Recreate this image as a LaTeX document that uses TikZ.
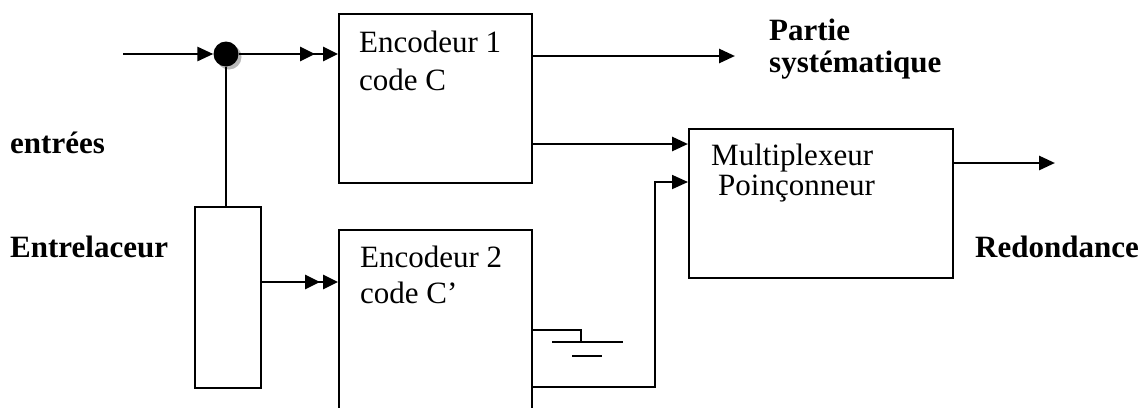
\documentclass[tikz,border=0pt]{standalone}
\usepackage{fontspec}
\setmainfont{Liberation Serif}
\usetikzlibrary{arrows.meta}

\begin{document}
\begin{tikzpicture}[x=1pt,y=-1pt,
  block/.style={draw, line width=1.8pt, inner sep=0pt, anchor=north west},
  txt/.style={inner sep=0pt, anchor=base west, font=\fontsize{31}{37}\selectfont},
  btxt/.style={inner sep=0pt, anchor=base west, font=\fontsize{31}{37}\selectfont\bfseries},
  wire/.style={line width=2.8pt},
  thinwire/.style={line width=1.8pt},
  tip/.style={-{Triangle[length=16pt,width=14pt]}},
  twotipsA/.style={-{Triangle[length=15pt,width=14pt,sep=8pt]Triangle[length=15pt,width=14pt]}},
  twotipsB/.style={-{Triangle[length=15pt,width=14pt,sep=3pt]Triangle[length=15pt,width=14pt]}},
]
\useasboundingbox (0,0) rectangle (1147,407);
\clip (0,0) rectangle (1147,407);

% blocks
\node[block, minimum width=193pt, minimum height=169pt] (enc1) at (338,13) {};
\node[block, minimum width=193pt, minimum height=200pt] (enc2) at (338,229) {};
\node[block, minimum width=66pt, minimum height=181pt] (inter) at (194,206) {};
\node[block, minimum width=264pt, minimum height=149pt] (mux) at (688,128) {};

% branching point with its shadow
\fill[gray!55] (229,57) circle (12.5);
\node[circle, fill=black, minimum size=25pt, inner sep=0pt] (dot) at (226,54) {};

% helper coordinates
\coordinate (in) at (123,54);
\coordinate (sysout) at (735,56);
\coordinate (r1) at (0,144);
\coordinate (r2) at (0,182);
\coordinate (r3) at (0,282);
\coordinate (r4) at (0,163);
\coordinate (redout) at (1055,163);
\coordinate (gnd) at (0,330);
\coordinate (gnda) at (581,342);
\coordinate (g1a) at (552,342);
\coordinate (g1b) at (623,342);
\coordinate (g2a) at (572,356);
\coordinate (g2b) at (602,356);
\coordinate (lp) at (0,387);
\coordinate (lpc) at (655,182);

% connectors
\draw[wire, tip] (in) -- (dot.west);
\draw[wire, twotipsA] (dot.east) -- (enc1.west |- dot);
\draw[thinwire] (dot.south) -- (dot.south |- inter.north);
\draw[wire, tip] (enc1.east |- sysout) -- (sysout);
\draw[wire, tip] (enc1.east |- r1) -- (mux.west |- r1);
\draw[wire, twotipsB] (inter.east |- r3) -- (enc2.west |- r3);
\draw[thinwire] (enc2.east |- gnd) -| (gnda);
\draw[thinwire] (g1a) -- (g1b);
\draw[thinwire] (g2a) -- (g2b);
\draw[thinwire, tip] (enc2.east |- lp) -| (lpc) -- (mux.west |- r2);
\draw[wire, tip] (mux.east |- r4) -- (redout);

% texts
\node[txt] (t1) at (359,52) {Encodeur 1};
\node[txt] (t2) at (359,90) {code C};
\node[txt] (t3) at (360,267) {Encodeur 2};
\node[txt] (t4) at (360,303) {code C’};
\node[txt] (t5) at (711,165) {Multiplexeur};
\node[txt] (t6) at (718,195) {Poinçonneur};
\node[btxt] (l1) at (769,40) {Partie};
\node[btxt] (l2) at (769,72) {systématique};
\node[btxt] (l3) at (10,153) {entrées};
\node[btxt] (l4) at (10,257) {Entrelaceur};
\node[btxt] (l5) at (975,257) {Redondance};
\end{tikzpicture}
\end{document}
